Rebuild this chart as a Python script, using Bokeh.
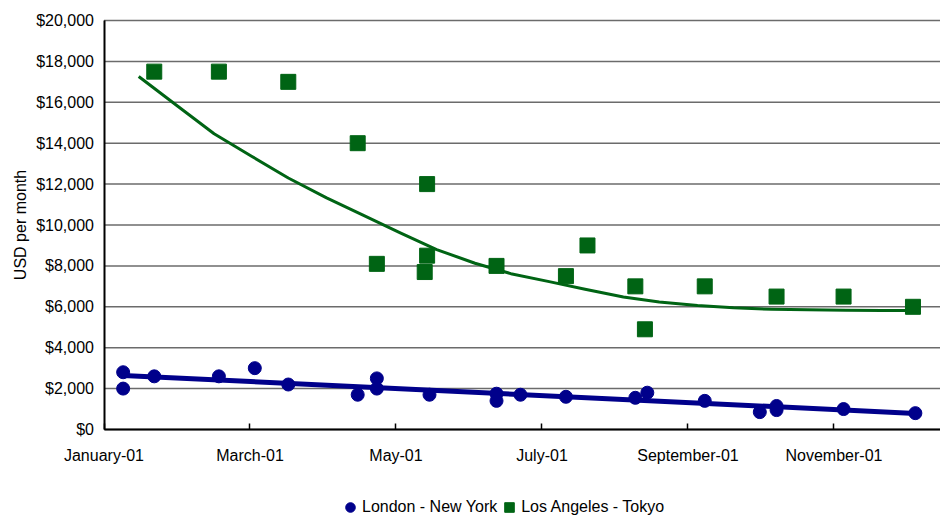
import math
import numpy as np
from bokeh.plotting import figure
from bokeh.models import Range1d, FixedTicker, NumeralTickFormatter, Legend, LegendItem, Label
from bokeh.embed import file_html
from bokeh.resources import INLINE

# ---------------- data (x = days after 1 January 2001) ----------------
ldn_ny_day = [8, 8, 21, 48, 63, 77, 106, 114, 114, 136,
              164, 164, 174, 193, 222, 227, 251, 274, 281, 281,
              309, 339]
ldn_ny_usd = [2800, 2000, 2600, 2600, 3000, 2200, 1700, 2500, 2000, 1700,
              1750, 1400, 1700, 1600, 1550, 1800, 1400, 850, 1150, 950,
              1000, 800]

la_tyo_day = [21, 48, 77, 106, 114, 135, 135, 134, 164, 193,
              202, 222, 226, 251, 281, 309, 338]
la_tyo_usd = [17500, 17500, 17000, 14000, 8100, 12000, 8500, 7700, 8000, 7500,
              9000, 7000, 4900, 7000, 6500, 6500, 6000]

# trend curve of Los Angeles - Tokyo
la_tyo_trend_day = [14.5, 30, 46, 62, 77, 93, 108, 124, 139, 155, 170,
                    186, 201, 217, 232, 248, 263, 279, 294, 310, 325, 338]
la_tyo_trend_usd = [17260, 15880, 14460, 13340, 12300, 11330, 10500, 9600, 8800, 8130, 7620,
                    7230, 6860, 6480, 6240, 6060, 5950, 5880, 5850, 5833, 5825, 5820]

tick_day = [0, 61, 122, 183, 244, 305]
tick_labels = ["January-01", "March-01", "May-01", "July-01", "September-01", "November-01"]
axis_end_day = 349.5
y_ticks = [0, 2000, 4000, 6000, 8000, 10000, 12000, 14000, 16000, 18000, 20000]

y_title = "USD per month"
series_names = ["London - New York", "Los Angeles - Tokyo"]

# linear trendline of London - New York (least squares, as in the source chart)
ldn_coef = np.polyfit(ldn_ny_day, ldn_ny_usd, 1)
ldn_tx = np.array([min(ldn_ny_day), max(ldn_ny_day)], dtype=float)
ldn_ty = np.polyval(ldn_coef, ldn_tx)

# ---------------- layout (frame fills the whole page; axes sit at fixed spots) ----------------
W, H = 940, 516
TOP, LEFT = 20, 103.5
PLOT_W = W - LEFT                 # pixels for 0 .. axis_end_day
PLOT_H = 409                      # pixels for 0 .. 20000
y_max = y_ticks[-1]
x_start = -axis_end_day * LEFT / PLOT_W
y_end = y_max + y_max * TOP / PLOT_H
y_start = -y_max * (H - TOP - PLOT_H) / PLOT_H

FONT = "Liberation Sans"
BLUE = "#00008b"
GREEN = "#006414"

p = figure(width=W, height=H, output_backend="svg", toolbar_location=None,
           x_range=Range1d(x_start, axis_end_day), y_range=Range1d(y_start, y_end),
           min_border_left=0, min_border_right=0, min_border_top=0, min_border_bottom=0)
p.outline_line_color = None
p.background_fill_color = "white"
p.border_fill_color = "white"
p.xgrid.visible = False
p.ygrid.visible = False

# horizontal grid lines, only across the plotting band
p.segment(x0=[0] * len(y_ticks), x1=[axis_end_day] * len(y_ticks), y0=y_ticks, y1=y_ticks,
          line_color="#6b6b6b", line_width=1.5)

# y axis at day 0
p.yaxis.fixed_location = 0
p.yaxis.bounds = (0, y_max)
p.yaxis.ticker = FixedTicker(ticks=y_ticks)
p.yaxis.formatter = NumeralTickFormatter(format="$0,0")
p.yaxis.axis_line_color = "black"
p.yaxis.axis_line_width = 2
p.yaxis.major_tick_out = 0
p.yaxis.major_tick_in = 0
p.yaxis.minor_tick_out = 0
p.yaxis.minor_tick_in = 0
p.yaxis.major_label_text_font = FONT
p.yaxis.major_label_text_font_size = "16px"
p.yaxis.major_label_text_color = "black"
p.yaxis.major_label_standoff = 10

# x axis at value 0
p.xaxis.fixed_location = 0
p.xaxis.bounds = (0, axis_end_day)
p.xaxis.ticker = FixedTicker(ticks=tick_day)
p.xaxis.major_label_overrides = {d: lab for d, lab in zip(tick_day, tick_labels)}
p.xaxis.axis_line_color = "black"
p.xaxis.axis_line_width = 2
p.xaxis.major_tick_in = 6
p.xaxis.major_tick_out = 0
p.xaxis.major_tick_line_color = "black"
p.xaxis.major_tick_line_width = 1.5
p.xaxis.minor_tick_out = 0
p.xaxis.minor_tick_in = 0
p.xaxis.major_label_text_font = FONT
p.xaxis.major_label_text_font_size = "16px"
p.xaxis.major_label_text_color = "black"
p.xaxis.major_label_standoff = 17

# y axis title, centred on the value band
p.add_layout(Label(x=20, y=H - (TOP + PLOT_H / 2), x_units="screen", y_units="screen",
                   text=y_title, angle=math.pi / 2, text_align="center",
                   text_baseline="middle", text_font=FONT, text_font_size="16px",
                   text_color="black"))

# trend lines
p.line(la_tyo_trend_day, la_tyo_trend_usd, line_color=GREEN, line_width=3, line_join="round")
p.line(ldn_tx, ldn_ty, line_color=BLUE, line_width=5)

# markers
r_ldn = p.scatter(ldn_ny_day, ldn_ny_usd, marker="circle", size=13,
                  fill_color=BLUE, line_color=BLUE)
r_la = p.scatter(la_tyo_day, la_tyo_usd, marker="square", size=15,
                 fill_color=GREEN, line_color=GREEN)

legend = Legend(items=[LegendItem(label=series_names[0], renderers=[r_ldn]),
                       LegendItem(label=series_names[1], renderers=[r_la])],
                orientation="horizontal", location=(338, -3),
                label_text_font=FONT, label_text_font_size="16px",
                label_text_color="black",
                glyph_width=24, glyph_height=24, label_standoff=0, spacing=0,
                padding=0, margin=0, border_line_alpha=0, background_fill_alpha=0)
p.add_layout(legend)

open("out.html", "w").write(file_html(p, INLINE))
